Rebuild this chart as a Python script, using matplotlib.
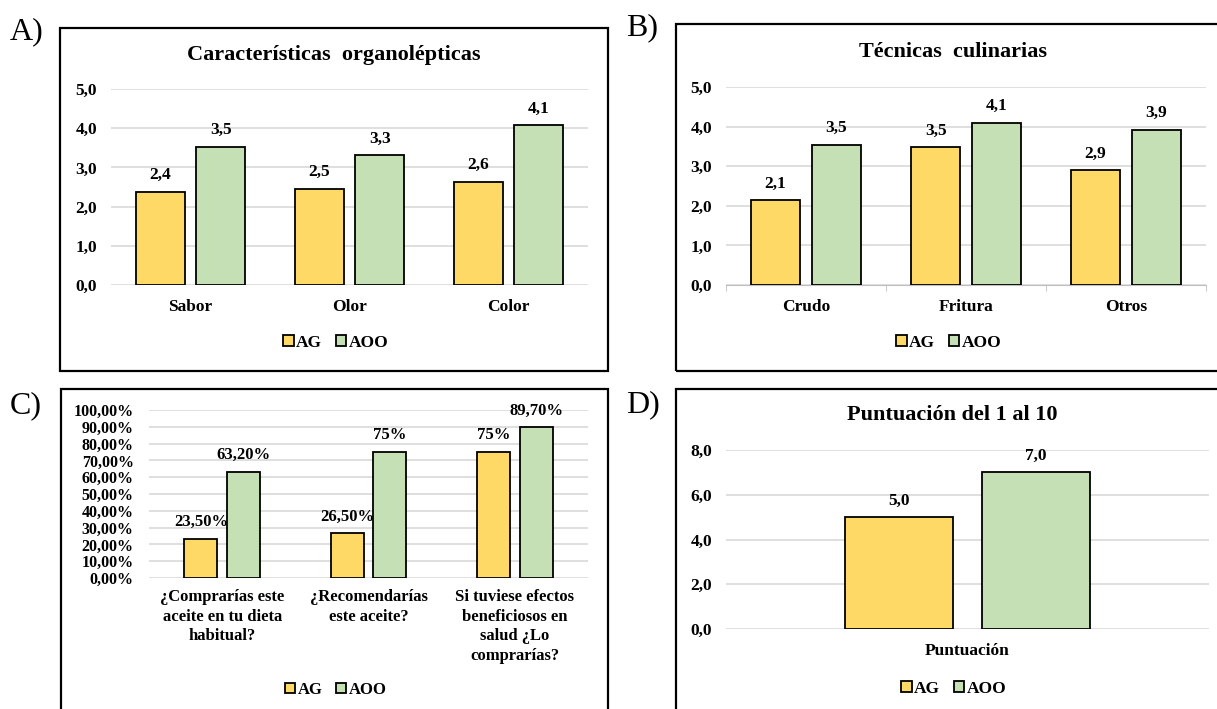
import numpy as np
import matplotlib
matplotlib.use('Agg')
import matplotlib.pyplot as plt
from matplotlib.patches import Rectangle

plt.rcParams['font.family'] = ['Liberation Serif', 'DejaVu Serif']

# data
series = ['AG', 'AOO']
colors = ['#FFD966', '#C5E0B4']

org_cats = ['Sabor', 'Olor', 'Color']
org_ag = [2.38, 2.46, 2.63]
org_aoo = [3.53, 3.31, 4.07]

tec_cats = ['Crudo', 'Fritura', 'Otros']
tec_ag = [2.14, 3.48, 2.90]
tec_aoo = [3.54, 4.10, 3.92]

preg_cats = ['¿Comprarías este\naceite en tu dieta\nhabitual?',
             '¿Recomendarías\neste aceite?',
             'Si tuviese efectos\nbeneficiosos en\nsalud ¿Lo\ncomprarías?']
preg_ag = [0.235, 0.265, 0.75]
preg_aoo = [0.632, 0.75, 0.897]
preg_ag_lbl = ['23,50%', '26,50%', '75%']
preg_aoo_lbl = ['63,20%', '75%', '89,70%']

punt_cats = ['Puntuación']
punt_ag = [5.0]
punt_aoo = [7.0]

W, H = 1217, 709
fig = plt.figure(figsize=(W / 100, H / 100), dpi=100)


def px_axes(l, t, r, b):
    return fig.add_axes([l / W, 1 - b / H, (r - l) / W, (b - t) / H])


def box(l, t, r, b):
    fig.patches.append(Rectangle((l / W, 1 - b / H), (r - l) / W, (b - t) / H,
                                 transform=fig.transFigure, fill=False,
                                 edgecolor='black', linewidth=1.6))


def fmt1(v):
    return f'{v:.1f}'.replace('.', ',')


def bars(ax, cats, ag, aoo, off, width, lbl_ag, lbl_aoo, fs):
    x = np.arange(len(cats))
    b1 = ax.bar(x - off, ag, width, color=colors[0], edgecolor='black', linewidth=1.3, zorder=3, label=series[0])
    b2 = ax.bar(x + off, aoo, width, color=colors[1], edgecolor='black', linewidth=1.3, zorder=3, label=series[1])
    for xs, vs, ls in [(x - off, ag, lbl_ag), (x + off, aoo, lbl_aoo)]:
        for xi, v, l in zip(xs, vs, ls):
            ax.annotate(l, (xi, v), xytext=(0, 12), textcoords='offset points',
                        ha='center', va='center', fontsize=fs, fontweight='bold')
    ax.set_xlim(-0.5, len(cats) - 0.5)
    ax.set_xticks(x)
    ax.set_xticklabels(cats, fontweight='bold')
    ax.yaxis.grid(True, color='#D9D9D9', linewidth=1.2)
    ax.set_axisbelow(True)
    for s in ax.spines.values():
        s.set_visible(False)
    ax.tick_params(length=0)
    return b1, b2


def legend(ax, x, y, fs):
    fig.legend(*ax.get_legend_handles_labels(), loc='center', bbox_to_anchor=(x / W, 1 - y / H),
               ncol=2, frameon=False, handlelength=0.6, handleheight=0.6,
               handletextpad=0.15, columnspacing=0.8, prop={'weight': 'bold', 'size': fs})


# A) organolepticas
box(60, 28, 608, 371)
fig.text(10 / W, 1 - 32 / H, 'A)', fontsize=23, ha='left', va='center')
fig.text(334 / W, 1 - 55 / H, 'Características  organolépticas', fontsize=16, fontweight='bold', ha='center', va='center')
ax1 = px_axes(111, 89, 588, 285)
bars(ax1, org_cats, org_ag, org_aoo, 0.19, 0.31, [fmt1(v) for v in org_ag], [fmt1(v) for v in org_aoo], 12.5)
ax1.set_ylim(0, 5)
ax1.set_yticks(np.arange(0, 6))
ax1.set_yticklabels([fmt1(v) for v in np.arange(0, 6)], fontweight='bold')
ax1.tick_params(axis='y', pad=10, labelsize=12.5)
ax1.tick_params(axis='x', pad=10, labelsize=12.5)
legend(ax1, 336, 343, 12.5)

# B) tecnicas
box(676, 24, 1230, 371)
fig.text(626 / W, 1 - 28 / H, 'B)', fontsize=23, ha='left', va='center')
fig.text(953 / W, 1 - 52 / H, 'Técnicas  culinarias', fontsize=16, fontweight='bold', ha='center', va='center')
ax2 = px_axes(726, 87, 1206, 285)
bars(ax2, tec_cats, tec_ag, tec_aoo, 0.19, 0.31, [fmt1(v) for v in tec_ag], [fmt1(v) for v in tec_aoo], 12.5)
ax2.set_ylim(0, 5)
ax2.set_yticks(np.arange(0, 6))
ax2.set_yticklabels([fmt1(v) for v in np.arange(0, 6)], fontweight='bold')
ax2.tick_params(axis='y', pad=10, labelsize=12.5)
ax2.tick_params(axis='x', pad=10, labelsize=12.5)
ax2.spines['bottom'].set_visible(True)
ax2.spines['bottom'].set_color('#BFBFBF')
ax2.set_xticks(np.arange(-0.5, 3.0, 1.0), minor=True)
ax2.tick_params(axis='x', which='minor', length=4, color='#BFBFBF')
legend(ax2, 949, 343, 12.5)

# C) preguntas
box(61, 389, 608, 720)
fig.text(10 / W, 1 - 406 / H, 'C)', fontsize=23, ha='left', va='center')
ax3 = px_axes(149, 410, 588, 578)
bars(ax3, preg_cats, preg_ag, preg_aoo, 0.145, 0.225, preg_ag_lbl, preg_aoo_lbl, 12)
ax3.set_ylim(0, 1)
ax3.set_yticks(np.arange(0, 11) / 10)
ax3.set_yticklabels([f'{v * 10},00%' for v in range(11)], fontweight='bold')
ax3.tick_params(axis='y', pad=11, labelsize=11.5)
ax3.tick_params(axis='x', pad=8, labelsize=12)
for t in ax3.get_xticklabels():
    t.set_linespacing(1.3)
legend(ax3, 336, 690, 12)

# D) puntuacion
box(676, 389, 1230, 720)
fig.text(626 / W, 1 - 405 / H, 'D)', fontsize=23, ha='left', va='center')
fig.text(952 / W, 1 - 415 / H, 'Puntuación del 1 al 10', fontsize=16, fontweight='bold', ha='center', va='center')
ax4 = px_axes(726, 450, 1209, 629)
bars(ax4, punt_cats, punt_ag, punt_aoo, 0.142, 0.224, [fmt1(v) for v in punt_ag], [fmt1(v) for v in punt_aoo], 12.5)
ax4.set_ylim(0, 8)
ax4.set_yticks(np.arange(0, 9, 2))
ax4.set_yticklabels([fmt1(v) for v in np.arange(0, 9, 2)], fontweight='bold')
ax4.tick_params(axis='y', pad=10, labelsize=12.5)
ax4.tick_params(axis='x', pad=10, labelsize=12.5)
legend(ax4, 954, 689, 12.5)

fig.savefig('out.png', dpi=100)
